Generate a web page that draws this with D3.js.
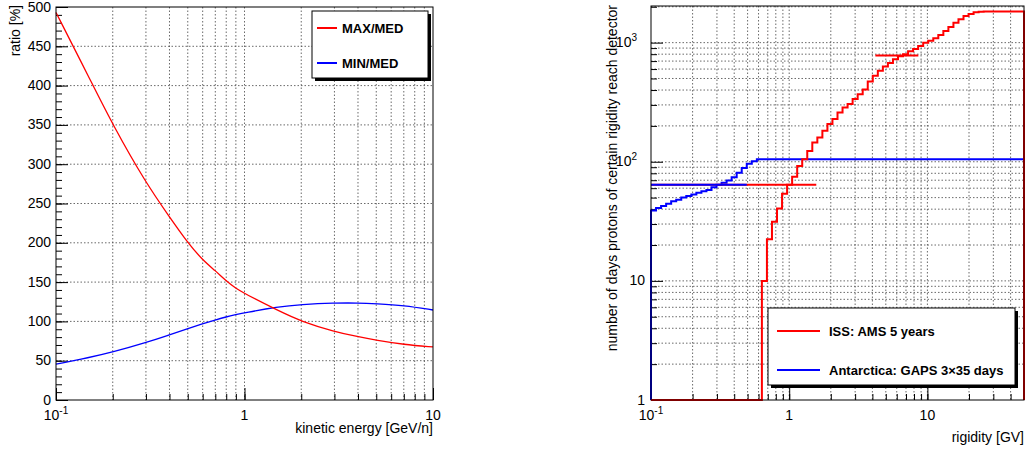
<!DOCTYPE html>
<html>
<head>
<meta charset="utf-8">
<script src="https://cdn.jsdelivr.net/npm/d3@7"></script>
<style>
  body { margin: 0; background: #fff; }
  svg { display: block; font-family: "Liberation Sans", Arial, Helvetica, sans-serif; }
  .grid line { stroke: #444; stroke-width: 0.8; stroke-dasharray: 1.5 2; }
  .axis path { display: none; }
  .axis line { stroke: #000; stroke-width: 1; }
</style>
</head>
<body>
<div id="display"></div>
<script>
// ---- left panel: ratios vs kinetic energy ----
const energy   = [0.1, 0.15, 0.2, 0.3, 0.4, 0.5, 0.6, 0.7, 0.8, 0.9, 1, 1.5, 2, 3, 4, 5, 7, 10];
const maxMed   = [493, 410, 350, 276, 233, 200, 178, 164.5, 151.5, 142, 135.5, 114, 100, 87, 80.5, 76, 70.5, 67.5];
const minMed   = [45.5, 54, 61, 73, 83, 90.7, 97, 101.8, 105.8, 108.6, 111, 118.5, 121.5, 123.5, 123.5, 122.5, 120.5, 114.5];
const leftSeries = ["MAX/MED", "MIN/MED"];

// ---- right panel: days vs rigidity (log-binned histograms) ----
const rigidityMin = 0.1, rigidityMax = 50, nBins = 74;
const issDays = [
  1,1,1,1,1,1,1,1,1,1,1,1,1,1,1,1,1,1,1,1,1,1,
  10,22.4,31.4,40.6,54,64,75,92,105,123,145,160,182,207,228,259,285,305,336,369,
  405,471,526,580,630,675,725,770,800,845,885,935,1000,1039,1088,1160,1250,1350,
  1470,1570,1673,1740,1797,1820,
  1825,1825,1825,1825,1825,1825,1825,1825
];
const gapsDays = [
  39,41,42.5,44.5,46.5,48,50,51.5,53,55,56.5,58,61,64,66.5,69.5,74,81,88.5,96,101,
  105,105,105,105,105,105,105,105,105,105,105,105,105,105,105,105,105,105,105,105,
  105,105,105,105,105,105,105,105,105,105,105,105,105,105,105,105,105,105,105,105,
  105,105,105,105,105,105,105,105,105,105,105,105,105
];
// horizontal marker lines [from, to, value]
const issMarks  = [[0.1, 1.57, 64], [4.2, 8.6, 778]];
const gapsMarks = [[0.1, 0.493, 64]];
const rightSeries = ["ISS: AMS 5 years", "Antarctica: GAPS 3\u00d735 days"];

const svg = d3.select("#display").append("svg").attr("width", 1030).attr("height", 450);

function legend(x, y, w, h, items) {
  svg.append("rect").attr("x", x + 3).attr("y", y + 3).attr("width", w).attr("height", h).attr("fill", "#000");
  svg.append("rect").attr("x", x).attr("y", y).attr("width", w).attr("height", h)
    .attr("fill", "#fff").attr("stroke", "#000").attr("stroke-width", 1);
  items.forEach(it => {
    svg.append("line").attr("x1", it.lx).attr("x2", it.lx2).attr("y1", it.y).attr("y2", it.y)
      .attr("stroke", it.color).attr("stroke-width", 2);
    svg.append("text").attr("x", it.tx).attr("y", it.y + 5).attr("font-size", 13)
      .attr("font-weight", "bold").text(it.label);
  });
}

function supText(sel, base, exp) {
  sel.text(base);
  if (exp) sel.append("tspan").attr("dy", -6).attr("font-size", 10).text(exp);
}

// =========== LEFT ===========
const xL = d3.scaleLog().domain([0.1, 10]).range([56, 433]);
const yL = d3.scaleLinear().domain([0, 500]).range([400, 7]);
const xLgrid = [0.2,0.3,0.4,0.5,0.6,0.7,0.8,0.9,1,2,3,4,5,6,7,8,9];

const gl = svg.append("g").attr("class", "grid");
xLgrid.forEach(v => gl.append("line").attr("x1", xL(v)).attr("x2", xL(v)).attr("y1", 7).attr("y2", 400));
d3.range(50, 500, 50).forEach(v => gl.append("line").attr("x1", 56).attr("x2", 433).attr("y1", yL(v)).attr("y2", yL(v)));

// y axis ticks, pointing inward
svg.append("g").attr("class", "axis").attr("transform", "translate(56,0)")
  .call(d3.axisRight(yL).tickValues(d3.range(0, 501, 10)).tickSize(6).tickFormat(""));
svg.append("g").attr("class", "axis").attr("transform", "translate(56,0)")
  .call(d3.axisRight(yL).tickValues(d3.range(0, 501, 50)).tickSize(12).tickFormat(""));
d3.range(0, 501, 50).forEach(v => svg.append("text").attr("x", 51).attr("y", yL(v) + 4.5)
  .attr("text-anchor", "end").attr("font-size", 14).text(v));

// x axis ticks, pointing inward
svg.append("g").attr("class", "axis").attr("transform", "translate(0,400)")
  .call(d3.axisTop(xL).tickValues(xLgrid).tickSize(6).tickFormat(""));
svg.append("g").attr("class", "axis").attr("transform", "translate(0,400)")
  .call(d3.axisTop(xL).tickValues([0.1, 1, 10]).tickSize(12).tickFormat(""));
[[0.1, "10", "-1"], [1, "1", ""], [10, "10", ""]].forEach(d => {
  const t = svg.append("text").attr("x", xL(d[0])).attr("y", 420).attr("text-anchor", "middle").attr("font-size", 14);
  supText(t, d[1], d[2]);
});

// smooth curves (B-spline through the read-off points)
const lineL = d3.line().x((d, i) => xL(energy[i])).y(d => yL(d)).curve(d3.curveBasis);
svg.append("path").attr("d", lineL(minMed)).attr("fill", "none").attr("stroke", "#0000ff").attr("stroke-width", 1.3);
svg.append("path").attr("d", lineL(maxMed)).attr("fill", "none").attr("stroke", "#ff0000").attr("stroke-width", 1.3);

svg.append("rect").attr("x", 56).attr("y", 7).attr("width", 377).attr("height", 393)
  .attr("fill", "none").attr("stroke", "#000").attr("stroke-width", 1);

svg.append("text").attr("transform", "translate(20,5) rotate(-90)").attr("text-anchor", "end")
  .attr("font-size", 14).text("ratio [%]");
svg.append("text").attr("x", 433).attr("y", 433).attr("text-anchor", "end")
  .attr("font-size", 14).text("kinetic energy [GeV/n]");

legend(312, 11, 116, 67, [
  { lx: 317, lx2: 337, tx: 342, y: 28, color: "#ff0000", label: leftSeries[0] },
  { lx: 317, lx2: 337, tx: 342, y: 63, color: "#0000ff", label: leftSeries[1] }
]);

// =========== RIGHT ===========
const xR = d3.scaleLog().domain([rigidityMin, rigidityMax]).range([651, 1024]);
const yR = d3.scaleLog().domain([1, 2030]).range([400, 6]);
const xRgrid = [0.2,0.3,0.4,0.5,0.6,0.7,0.8,0.9,1,2,3,4,5,6,7,8,9,10,20,30,40];
const yRminor = [2,3,4,5,6,7,8,9,20,30,40,50,60,70,80,90,200,300,400,500,600,700,800,900,2000];
const yRgrid = yRminor.concat([10, 100, 1000]);

const gr = svg.append("g").attr("class", "grid");
xRgrid.forEach(v => gr.append("line").attr("x1", xR(v)).attr("x2", xR(v)).attr("y1", 6).attr("y2", 400));
yRgrid.forEach(v => gr.append("line").attr("x1", 651).attr("x2", 1024).attr("y1", yR(v)).attr("y2", yR(v)));

svg.append("g").attr("class", "axis").attr("transform", "translate(651,0)")
  .call(d3.axisRight(yR).tickValues(yRminor).tickSize(6).tickFormat(""));
svg.append("g").attr("class", "axis").attr("transform", "translate(651,0)")
  .call(d3.axisRight(yR).tickValues([1, 10, 100, 1000]).tickSize(12).tickFormat(""));
[[1, "1", ""], [10, "10", ""], [100, "10", "2"], [1000, "10", "3"]].forEach(d => {
  const t = svg.append("text").attr("x", d[2] ? 637 : 645).attr("y", yR(d[0]) + 4.5)
    .attr("text-anchor", "end").attr("font-size", 14);
  supText(t, d[1], d[2]);
});

svg.append("g").attr("class", "axis").attr("transform", "translate(0,400)")
  .call(d3.axisTop(xR).tickValues(xRgrid).tickSize(6).tickFormat(""));
svg.append("g").attr("class", "axis").attr("transform", "translate(0,400)")
  .call(d3.axisTop(xR).tickValues([0.1, 1, 10]).tickSize(12).tickFormat(""));
[[0.1, "10", "-1"], [1, "1", ""], [10, "10", ""]].forEach(d => {
  const t = svg.append("text").attr("x", xR(d[0])).attr("y", 420).attr("text-anchor", "middle").attr("font-size", 14);
  supText(t, d[1], d[2]);
});

// bin edges of the log-binned histograms
const lmin = Math.log10(rigidityMin), lmax = Math.log10(rigidityMax);
const edges = d3.range(nBins + 1).map(k => Math.pow(10, lmin + k * (lmax - lmin) / nBins));

function histPoints(vals) {
  const pts = [[xR(edges[0]), 400]];
  vals.forEach((v, k) => {
    pts.push([xR(edges[k]), yR(Math.max(v, 1))]);
    pts.push([xR(edges[k + 1]), yR(Math.max(v, 1))]);
  });
  pts.push([xR(edges[nBins]), 400]);
  return pts;
}

svg.append("clipPath").attr("id", "clipR").append("rect").attr("x", 650).attr("y", 5).attr("width", 376).attr("height", 396);
const hg = svg.append("g").attr("clip-path", "url(#clipR)");
hg.append("path").attr("d", d3.line()(histPoints(gapsDays))).attr("fill", "none").attr("stroke", "#0000ff").attr("stroke-width", 2);
hg.append("path").attr("d", d3.line()(histPoints(issDays))).attr("fill", "none").attr("stroke", "#ff0000").attr("stroke-width", 2);
issMarks.forEach(m => hg.append("line").attr("x1", xR(m[0])).attr("x2", xR(m[1])).attr("y1", yR(m[2])).attr("y2", yR(m[2]))
  .attr("stroke", "#ff0000").attr("stroke-width", 2));
gapsMarks.forEach(m => hg.append("line").attr("x1", xR(m[0])).attr("x2", xR(m[1])).attr("y1", yR(m[2])).attr("y2", yR(m[2]))
  .attr("stroke", "#0000ff").attr("stroke-width", 2));

svg.append("rect").attr("x", 651).attr("y", 6).attr("width", 373).attr("height", 394)
  .attr("fill", "none").attr("stroke", "#000").attr("stroke-width", 1);

svg.append("text").attr("transform", "translate(617,5) rotate(-90)").attr("text-anchor", "end")
  .attr("font-size", 14).text("number of days protons of certain rigidity reach detector");
svg.append("text").attr("x", 1024).attr("y", 442).attr("text-anchor", "end")
  .attr("font-size", 14).text("rigidity [GV]");

legend(768, 308, 247, 77, [
  { lx: 777, lx2: 820, tx: 829, y: 331, color: "#ff0000", label: rightSeries[0] },
  { lx: 777, lx2: 820, tx: 829, y: 370, color: "#0000ff", label: rightSeries[1] }
]);
</script>
</body>
</html>
